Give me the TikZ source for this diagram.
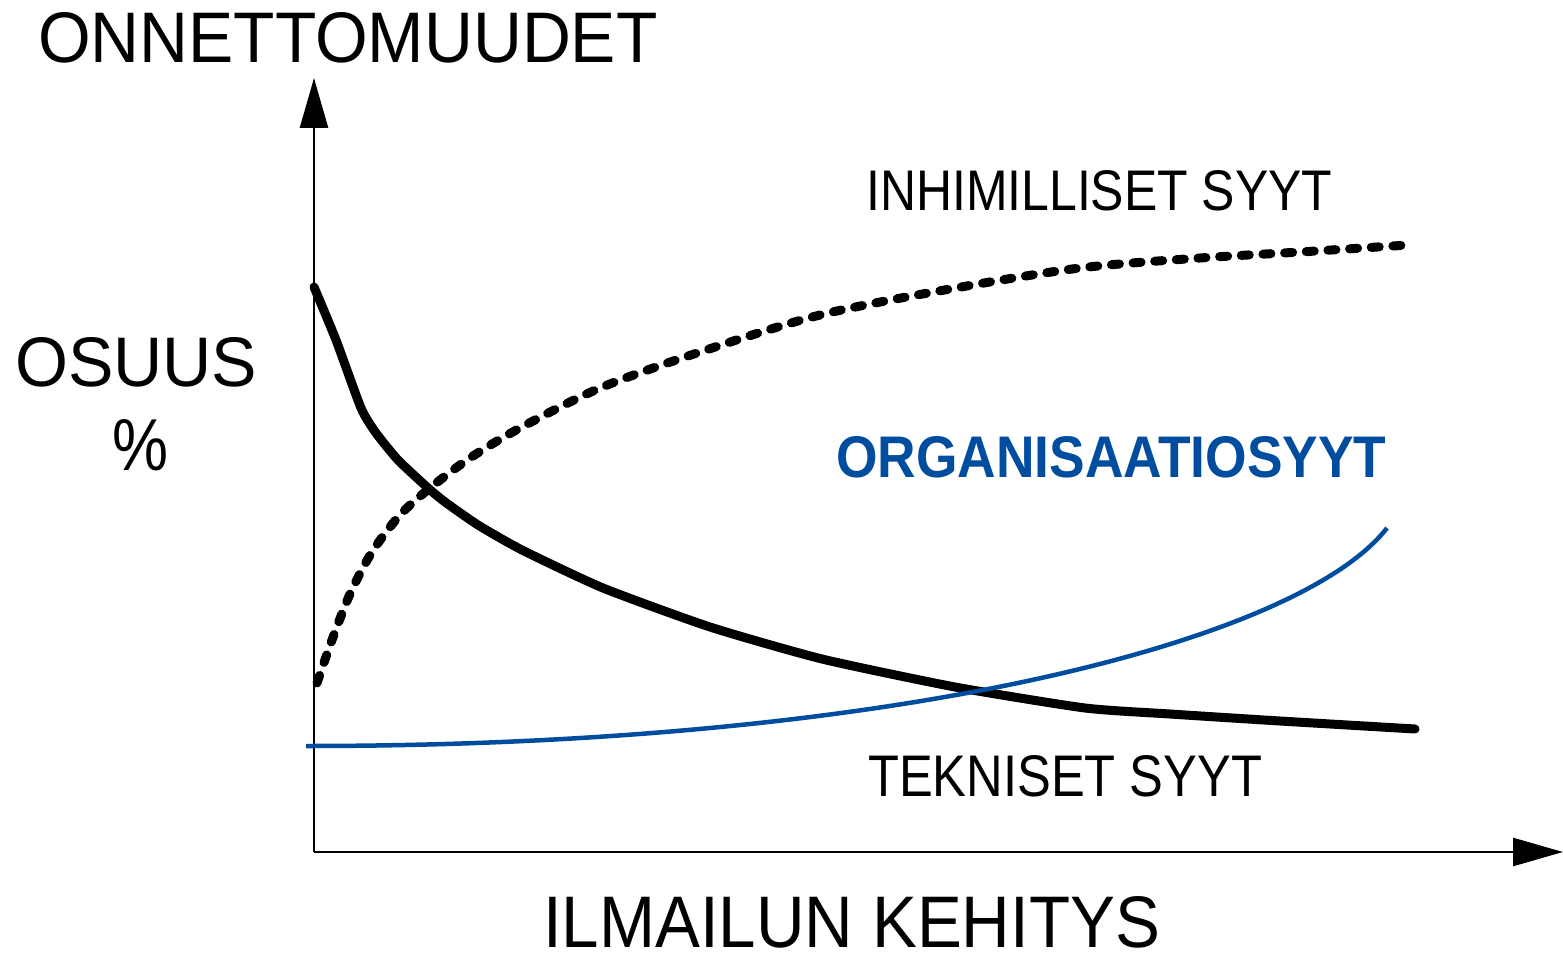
\documentclass[tikz,border=0pt]{standalone}
\usepackage{fontspec}
\setmainfont{Liberation Sans}
\usetikzlibrary{arrows.meta}
\definecolor{orgblue}{RGB}{0,76,158}
\begin{document}
\begin{tikzpicture}[x=1pt,y=-1pt,
  axis/.style={line width=2.5pt,-{Triangle[length=50pt,width=28pt]}},
  lbl/.style={inner sep=0pt,anchor=south west},
  tech/.style={line width=9pt,line cap=round,line join=round},
  human/.style={line width=9pt,line cap=round,dash pattern=on 8pt off 13.7pt},
  org/.style={line width=4.5pt,color=orgblue}]
\useasboundingbox (0,0) rectangle (1563,957);
\coordinate (O) at (314,852);
\coordinate (ytip) at (314,78);
\coordinate (xtip) at (1563,852);
\coordinate (b0) at (306,746);
\coordinate (b1) at (1387,528);
\draw[axis] (O) -- (ytip);
\draw[axis] (O) -- (xtip);
% curves
\draw[tech] plot[smooth,tension=0.35] coordinates {(314,287) (336,340) (361,408) (376,433) (398,460) (428,488) (445,502) (478,525) (522,550) (603,588) (710,627) (822,659) (955,687) (1085,708) (1170,714) (1280,721) (1415,729)};
\draw[human] plot[smooth,tension=0.5] coordinates {(317,683) (332,640) (350,594) (372,552) (400,515) (430,488) (470,458) (520,428) (600,388) (700,352) (820,315) (950,289) (1080,268) (1200,258) (1300,252) (1408,245)};
\draw[org] (b0) .. controls (900,746) and (1300,640) .. (b1);
% labels
\node[lbl] (yl) at (38,63) {\resizebox{619pt}{50pt}{ONNETTOMUUDET}};
\node[lbl] (os) at (15,387) {\resizebox{242pt}{49pt}{OSUUS}};
\node[lbl] (pc) at (112,471) {\resizebox{56pt}{51pt}{\%}};
\node[lbl] (hum) at (866,211) {\resizebox{466pt}{40pt}{INHIMILLISET SYYT}};
\node[lbl,text=orgblue] (orgl) at (836,478) {\resizebox{550pt}{41pt}{\bfseries ORGANISAATIOSYYT}};
\node[lbl] (tek) at (868,797) {\resizebox{394pt}{41pt}{TEKNISET SYYT}};
\node[lbl] (xl) at (543,948) {\resizebox{617pt}{51pt}{ILMAILUN KEHITYS}};
\end{tikzpicture}
\end{document}
